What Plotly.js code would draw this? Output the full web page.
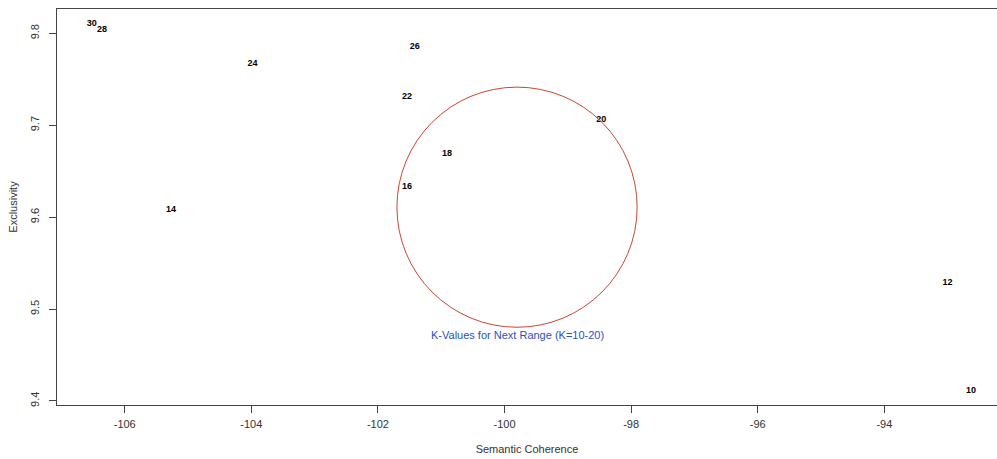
<!DOCTYPE html>
<html>
<head>
<meta charset="utf-8">
<script src="https://cdn.plot.ly/plotly-3.0.1.min.js"></script>
<style>html,body{margin:0;padding:0;background:#fff;}#chart{width:997px;height:459px;}</style>
</head>
<body>
<div id="chart"></div>
<script>
// Data
const kLabels = ["30", "28", "24", "26", "22", "20", "18", "16", "14", "12", "10"];
const semanticCoherence = [-106.52, -106.36, -103.98, -101.42, -101.54, -98.47, -100.91, -101.54, -105.27, -93.00, -92.63];
const exclusivity = [9.810, 9.804, 9.767, 9.785, 9.731, 9.706, 9.669, 9.633, 9.608, 9.529, 9.411];
const xTicks = [-106, -104, -102, -100, -98, -96, -94];
const yTicks = [9.4, 9.5, 9.6, 9.7, 9.8];
// Highlight circle (data extents) and its caption
const circleX = [-101.70, -97.905];
const circleY = [9.4802, 9.7415];
const captionText = "K-Values for Next Range (K=10-20)";
const captionPos = [-99.79, 9.4715];

const font = "Liberation Sans, Arial, sans-serif";

const trace = {
  x: semanticCoherence,
  y: exclusivity,
  text: kLabels,
  mode: "text",
  type: "scatter",
  textposition: "middle center",
  textfont: {family: font, size: 9, color: "#000", weight: "bold"},
  hoverinfo: "none",
  showlegend: false
};

const layout = {
  width: 997, height: 459,
  margin: {l: 57, r: 0, t: 9, b: 54, pad: 0},
  paper_bgcolor: "#fff", plot_bgcolor: "#fff",
  font: {family: font, size: 11, color: "#333"},
  showlegend: false,
  xaxis: {
    range: [-107.07, -92.22],
    tickvals: xTicks, ticktext: xTicks.map(String),
    ticks: "outside", ticklen: 7, tickcolor: "#444", tickwidth: 1,
    showgrid: false, zeroline: false,
    showline: true, linecolor: "#444", linewidth: 1, mirror: true,
    ticklabelstandoff: 2,
    tickfont: {family: font, size: 11, color: "#333"},
    title: {text: "Semantic Coherence", font: {family: font, size: 11, color: "#333"}, standoff: 16}
  },
  yaxis: {
    range: [9.3956, 9.8265],
    tickvals: yTicks, ticktext: yTicks.map(v => v.toFixed(1)),
    tickangle: -90,
    ticks: "outside", ticklen: 7, tickcolor: "#444", tickwidth: 1,
    showgrid: false, zeroline: false,
    showline: true, linecolor: "#444", linewidth: 1, mirror: true,
    ticklabelstandoff: 6,
    tickfont: {family: font, size: 11, color: "#333"},
    title: {text: "Exclusivity", font: {family: font, size: 11, color: "#333"}, standoff: 8}
  },
  shapes: [{
    type: "circle", xref: "x", yref: "y",
    x0: circleX[0], x1: circleX[1], y0: circleY[0], y1: circleY[1],
    line: {color: "#cf4433", width: 1}
  }],
  annotations: [{
    x: captionPos[0], y: captionPos[1], xref: "x", yref: "y",
    text: captionText, showarrow: false,
    font: {family: font, size: 11, color: "#2b4fc0"}
  }]
};

Plotly.newPlot("chart", [trace], layout, {displayModeBar: false, staticPlot: true});
</script>
</body>
</html>
